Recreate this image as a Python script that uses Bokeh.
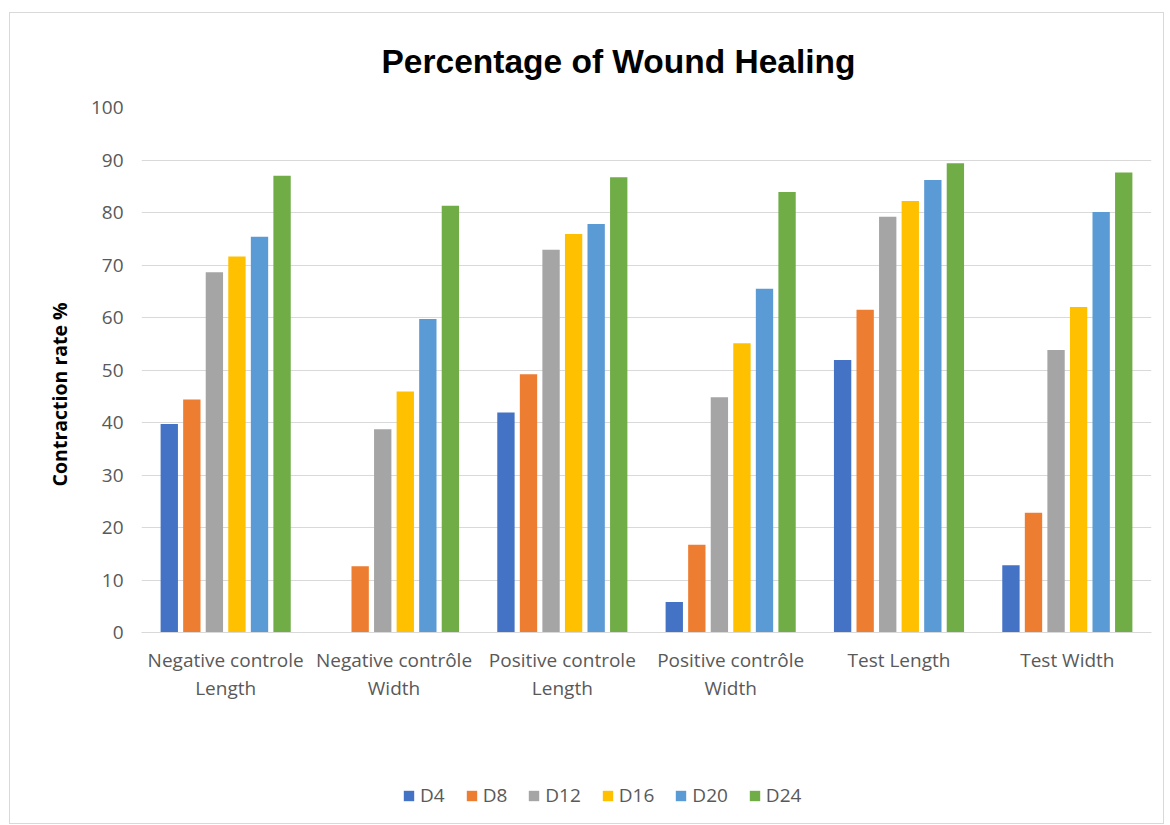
from bokeh.plotting import figure
from bokeh.layouts import column
from bokeh.models import ColumnDataSource, FactorRange, Range1d, Legend, LegendItem, Title
from bokeh.transform import dodge
from bokeh.embed import file_html
from bokeh.resources import INLINE

categories = ["Negative controle\nLength", "Negative contrôle\nWidth", "Positive controle\nLength",
              "Positive contrôle\nWidth", "Test Length", "Test Width"]
series_names = ["D4", "D8", "D12", "D16", "D20", "D24"]
d4 = [39.7, 0.0, 41.9, 5.8, 51.9, 12.8]
d8 = [44.4, 12.6, 49.2, 16.7, 61.5, 22.8]
d12 = [68.6, 38.7, 72.9, 44.8, 79.2, 53.8]
d16 = [71.6, 45.9, 75.9, 55.1, 82.2, 62.0]
d20 = [75.4, 59.7, 77.8, 65.5, 86.2, 80.1]
d24 = [87.0, 81.3, 86.7, 83.9, 89.4, 87.6]
colors = ["#4472C4", "#ED7D31", "#A5A5A5", "#FFC000", "#5B9BD5", "#70AD47"]
y_ticks = [0, 10, 20, 30, 40, 50, 60, 70, 80, 90, 100]

source = ColumnDataSource(dict(cat=categories, D4=d4, D8=d8, D12=d12, D16=d16, D20=d20, D24=d24))
xr = FactorRange(*categories, range_padding=0.0)
yr = Range1d(0, 100)

p = figure(x_range=xr, y_range=yr,
           width=1153, height=718, output_backend="svg", toolbar_location=None,
           min_border_left=131, min_border_right=12, min_border_top=94, min_border_bottom=99)

p.title = Title(text="Percentage of Wound Healing", align="left", offset=240,
                text_font="Liberation Sans", text_font_size="33.5px", text_font_style="bold",
                text_color="#000000", standoff=55)

# legend strip below the chart
p2 = figure(x_range=xr, y_range=yr, width=1153, height=92, output_backend="svg",
            toolbar_location=None, x_axis_location=None, y_axis_location=None,
            min_border_left=0, min_border_right=0, min_border_top=0, min_border_bottom=0)
p2.xgrid.grid_line_color = None
p2.ygrid.grid_line_color = None
p2.outline_line_color = None

pitch = 0.134
bw = 0.103
items = []
for i, (name, col) in enumerate(zip(series_names, colors)):
    off = (i - 2.5) * pitch
    p.vbar(x=dodge("cat", off, range=xr), top=name, width=bw, source=source,
           fill_color=col, line_color=None)
    r2 = p2.vbar(x=dodge("cat", off, range=xr), top=name, width=bw, source=source,
                 fill_color=col, line_color=None, visible=False)
    items.append(LegendItem(label=name, renderers=[r2]))

legend = Legend(items=items, orientation="horizontal", location=(261, 15),
                label_text_font="Open Sans", label_text_font_size="19px", label_text_color="#595959",
                glyph_width=13, glyph_height=13, label_standoff=5, spacing=20,
                padding=4, border_line_color=None, background_fill_alpha=0)
p2.add_layout(legend, "center")

p.yaxis.ticker = y_ticks
p.yaxis.axis_line_color = None
p.yaxis.major_tick_line_color = None
p.yaxis.minor_tick_line_color = None
p.yaxis.major_label_text_font = "Open Sans"
p.yaxis.major_label_text_font_size = "19px"
p.yaxis.major_label_text_color = "#595959"
p.yaxis.major_label_standoff = 12
p.yaxis.axis_label = "Contraction rate %\u2003\u2003\u2002"
p.yaxis.axis_label_text_font = "Open Sans"
p.yaxis.axis_label_text_font_size = "19.5px"
p.yaxis.axis_label_text_font_style = "bold"
p.yaxis.axis_label_text_color = "#000000"
p.yaxis.axis_label_standoff = 15

p.xaxis.axis_line_color = "#d9d9d9"
p.xaxis.major_tick_line_color = None
p.xaxis.minor_tick_line_color = None
p.xaxis.major_label_text_font = "Open Sans"
p.xaxis.major_label_text_font_size = "19px"
p.xaxis.major_label_text_color = "#595959"
p.xaxis.major_label_text_line_height = 1.1
p.xaxis.major_label_standoff = 8
p.xaxis.major_label_orientation = "horizontal"

p.xgrid.grid_line_color = None
p.ygrid.grid_line_color = "#d9d9d9"
p.ygrid.grid_line_width = 1
p.outline_line_color = None

layout = column(p, p2, spacing=0)
layout.margin = (12, 0, 0, 9)
layout.styles = {"border": "1px solid #d9d9d9"}

open("out.html", "w").write(file_html(layout, INLINE))
